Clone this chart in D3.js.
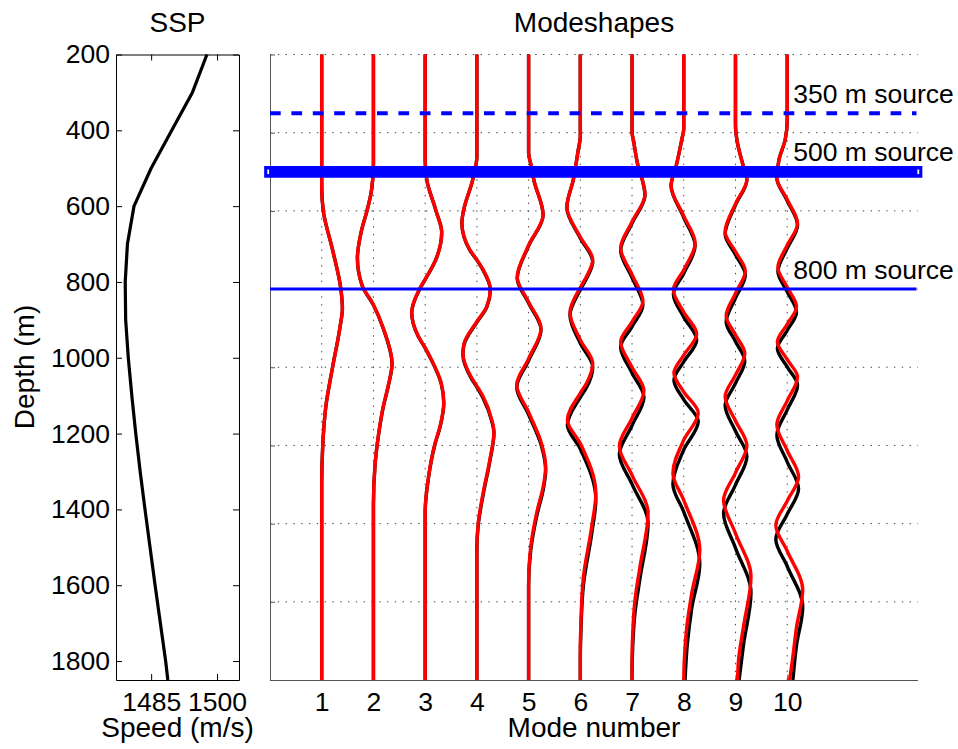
<!DOCTYPE html>
<html>
<head>
<meta charset="utf-8">
<script src="https://cdn.jsdelivr.net/npm/d3@7"></script>
<style>
  body { margin: 0; background: #fff; }
  text { font-family: "Liberation Sans", Arial, Helvetica, sans-serif; }
</style>
</head>
<body>
<svg id="chart" width="958" height="749"></svg>
<script>
// Sound speed profile (depth m, speed m/s)
const sspDepth = [200, 300, 400, 500, 600, 700, 800, 900, 1000, 1100, 1200, 1300, 1400, 1600, 1800, 1850];
const sspSpeed = [1497.7, 1494.4, 1489.7, 1485.0, 1481.1, 1479.6, 1479.1, 1479.2, 1479.8, 1480.6, 1481.5, 1482.5, 1483.6, 1485.9, 1488.3, 1488.8];

const depthTicks = [200, 400, 600, 800, 1000, 1200, 1400, 1600, 1800];
const speedTicks = [1485, 1500];
const modeNumbers = [1, 2, 3, 4, 5, 6, 7, 8, 9, 10];

const sourceDepths = [350, 500, 800];
const sourceLabels = ["350 m source", "500 m source", "800 m source"];

// Mode shapes as [depth, offset from mode number], red = one model, black = the other
const redShapes = [
    [[200,0],[540,0],[600,0.03],[700,0.21],[800,0.37],[850,0.40],[900,0.35],[1000,0.21],[1100,0.08],[1200,0.02],[1300,0],[1800,0]],
    [[200,0],[480,0],[550,-0.04],[600,-0.125],[650,-0.23],[720,-0.31],[790,-0.22],[840,0],[900,0.19],[990,0.36],[1050,0.28],[1100,0.19],[1170,0.1],[1250,0.03],[1350,0],[1800,0]],
    [[200,0],[470,0],[520,0.03],[600,0.21],[655,0.32],[720,0.22],[775,0],[800,-0.11],[860,-0.26],[920,-0.135],[950,0],[975,0.1],[1040,0.31],[1090,0.36],[1150,0.29],[1195,0.19],[1280,0.065],[1370,0],[1800,0]],
    [[200,0],[460,0],[520,-0.08],[600,-0.26],[630,-0.29],[700,-0.135],[725,0],[750,0.12],[800,0.26],[845,0.19],[883,0],[940,-0.25],[965,-0.27],[1025,-0.11],[1048,0],[1075,0.12],[1135,0.29],[1165,0.33],[1237,0.25],[1322,0.12],[1400,0.025],[1460,0],[1800,0]],
    [[200,0],[450,0],[490,0.06],[520,0.1],[610,0.28],[688,0],[770,-0.22],[833,0],[900,0.24],[978,0],[1045,-0.23],[1115,0],[1195,0.25],[1255,0.33],[1300,0.29],[1370,0.16],[1460,0.04],[1550,0],[1800,0]],
    [[200,0],[410,0],[444,-0.04],[520,-0.135],[590,-0.26],[667,0],[725,0.24],[768,0.12],[796,0],[860,-0.2],[930,0],[990,0.24],[1041,0.12],[1066,0],[1135,-0.25],[1195,0],[1322,0.3],[1408,0.22],[1536,0.06],[1660,0.01],[1720,0],[1800,0]],
    [[200,0],[400,0],[418,0.025],[487,0.12],[521,0.2],[558,0.25],[628,0],[695,-0.22],[763,0],[831,0.21],[884,0],[935,-0.22],[1000,0],[1060,0.23],[1130,0],[1202,-0.245],[1276,0],[1373,0.31],[1510,0.154],[1594,0.058],[1680,0.013],[1750,0],[1800,0]],
    [[200,0],[390,0],[418,-0.039],[487,-0.15],[535,-0.245],[613,0],[682,0.22],[751,0],[802,-0.2],[859,0],[915,0.25],[969,0],[1015,-0.19],[1063,0],[1117,0.28],[1186,0],[1271,-0.21],[1340,0],[1468,0.31],[1578,0.154],[1665,0.058],[1750,0.01],[1800,0]],
    [[200,0],[380,0],[418,0.027],[487,0.154],[520,0.22],[582,0],[654,-0.2],[704,0],[754,0.19],[811,0],[869,-0.18],[917,0],[965,0.18],[1020,0],[1075,-0.2],[1137,0],[1200,0.22],[1270,0],[1340,-0.23],[1425,0],[1535,0.3],[1664,0.154],[1750,0.058],[1800,0.04]],
    [[200,0],[370,0],[418,-0.039],[470,-0.16],[515,-0.2],[571,0],[632,0.2],[688,0],[745,-0.18],[795,0],[845,0.18],[890,0],[935,-0.19],[980,0],[1025,0.2],[1086,0],[1147,-0.2],[1213,0],[1280,0.22],[1342,0],[1404,-0.22],[1470,0],[1570,0.3],[1665,0.18],[1750,0.1],[1800,0.045]]
];

const blackShapes = [
    [[200,0],[540,0],[600,0.03],[700,0.21],[800,0.37],[850,0.40],[900,0.35],[1000,0.21],[1100,0.08],[1200,0.02],[1300,0],[1800,0]],
    [[200,0],[480,0],[550,-0.04],[600,-0.125],[650,-0.23],[721,-0.31],[791,-0.22],[841,0],[901,0.19],[992,0.36],[1052,0.28],[1102,0.19],[1172,0.1],[1252,0.03],[1352,0],[1800,0]],
    [[200,0],[470,0],[520,0.03],[600,0.21],[655,0.32],[720,0.22],[776,0],[801,-0.11],[861,-0.26],[921,-0.135],[951,0],[976,0.1],[1042,0.31],[1092,0.36],[1152,0.29],[1197,0.19],[1282,0.065],[1372,0],[1800,0]],
    [[200,0],[460,0],[520,-0.08],[601,-0.26],[631,-0.29],[701,-0.135],[726,0],[752,0.12],[802,0.26],[847,0.19],[885,0],[943,-0.25],[968,-0.27],[1028,-0.11],[1051,0],[1079,0.12],[1139,0.29],[1169,0.33],[1241,0.25],[1327,0.12],[1405,0.025],[1466,0],[1800,0]],
    [[200,0],[450,0],[490,0.06],[520,0.1],[611,0.28],[690,0],[773,-0.22],[836,0],[904,0.24],[983,0],[1051,-0.23],[1121,0],[1202,0.25],[1263,0.33],[1308,0.29],[1379,0.16],[1470,0.04],[1561,0],[1800,0]],
    [[200,0],[410,0],[444,-0.04],[520,-0.135],[592,-0.26],[670,0],[730,0.24],[773,0.12],[802,0],[867,-0.2],[939,0],[1000,0.24],[1052,0.12],[1077,0],[1148,-0.25],[1209,0],[1338,0.3],[1426,0.22],[1557,0.06],[1683,0.01],[1744,0],[1800,0]],
    [[200,0],[400,0],[418,0.025],[487,0.12],[522,0.2],[560,0.25],[632,0],[701,-0.22],[771,0],[841,0.21],[896,0],[948,-0.22],[1015,0],[1077,0.23],[1149,0],[1223,-0.245],[1299,0],[1399,0.31],[1540,0.154],[1627,0.058],[1715,0.013],[1788,0],[1800,0]],
    [[200,0],[390,0],[418,-0.039],[487,-0.15],[536,-0.245],[617,0],[689,0.22],[760,0],[813,-0.2],[872,0],[930,0.25],[986,0],[1033,-0.19],[1083,0],[1139,0.28],[1211,0],[1299,-0.21],[1370,0],[1503,0.31],[1617,0.154],[1707,0.07],[1800,0.025]],
    [[200,0],[380,0],[418,0.027],[487,0.154],[521,0.22],[585,0],[660,-0.2],[712,0],[764,0.19],[823,0],[884,-0.18],[934,0],[984,0.18],[1041,0],[1098,-0.2],[1163,0],[1228,0.22],[1301,0],[1374,-0.23],[1462,0],[1576,0.3],[1711,0.154],[1800,0.07]],
    [[200,0],[370,0],[418,-0.039],[470,-0.16],[516,-0.2],[574,0],[637,0.2],[696,0],[755,-0.18],[807,0],[859,0.18],[906,0],[952,-0.19],[999,0],[1046,0.2],[1109,0],[1173,-0.2],[1242,0],[1311,0.22],[1376,0],[1440,-0.22],[1509,0],[1613,0.3],[1712,0.18],[1800,0.11]]
];

const svg = d3.select("#chart");
const FONT = "'Liberation Sans', Arial, Helvetica, sans-serif";
const fmt = d3.format("d");

// ---------- SSP panel ----------
const sspX = d3.scaleLinear().domain([1477, 1505]).range([116, 239]);
const sspY = d3.scaleLinear().domain([200, 1850]).range([54.5, 680]);

function styleAxis(g, color, size) {
    g.attr("font-family", FONT).attr("font-size", size);
    g.selectAll("path.domain").attr("stroke", color).attr("stroke-width", 1);
    g.selectAll(".tick line").attr("stroke", color);
    g.selectAll(".tick text").attr("fill", "#000");
}

svg.append("g")
    .attr("transform", "translate(116,0)")
    .call(d3.axisLeft(sspY).tickValues(depthTicks).tickFormat(fmt).tickSize(-6).tickSizeOuter(0).tickPadding(6))
    .call(g => styleAxis(g, "#000", 26.5));
svg.append("g")
    .attr("transform", "translate(239,0)")
    .call(d3.axisRight(sspY).tickValues(depthTicks).tickSize(-6).tickSizeOuter(0).tickFormat(""))
    .call(g => styleAxis(g, "#000", 26));
svg.append("g")
    .attr("transform", "translate(0,680)")
    .call(d3.axisBottom(sspX).tickValues(speedTicks).tickFormat(fmt).tickSize(-6).tickSizeOuter(0).tickPadding(12))
    .call(g => styleAxis(g, "#000", 26.5));
svg.append("g")
    .attr("transform", "translate(0,54.5)")
    .call(d3.axisTop(sspX).tickValues(speedTicks).tickSize(-6).tickSizeOuter(0).tickFormat(""))
    .call(g => styleAxis(g, "#000", 26));

svg.append("path")
    .datum(sspDepth.map((d, i) => [sspSpeed[i], d]))
    .attr("fill", "none")
    .attr("stroke", "#000")
    .attr("stroke-width", 3.2)
    .attr("stroke-linejoin", "round")
    .attr("d", d3.line().x(d => sspX(d[0])).y(d => sspY(d[1])));

svg.append("text").attr("x", 177.5).attr("y", 32).attr("text-anchor", "middle")
    .attr("font-size", 28).text("SSP");
svg.append("text").attr("x", 177.5).attr("y", 737).attr("text-anchor", "middle")
    .attr("font-size", 28).text("Speed (m/s)");
svg.append("text").attr("transform", "translate(34,367) rotate(-90)").attr("text-anchor", "middle")
    .attr("font-size", 28).text("Depth (m)");

// ---------- Modeshape panel ----------
const modeX = d3.scaleLinear().domain([0, 12.5]).range([270, 916.5]);
const modeY = d3.scaleLinear().domain([200, 1800]).range([54.5, 680]);
const gridEnd = 918;

// dotted grid
const grid = svg.append("g").attr("stroke", "#444").attr("stroke-width", 1)
    .attr("stroke-dasharray", "1.4,6.4");
grid.selectAll("line.h")
    .data(depthTicks.filter(d => d < 1800))
    .join("line")
    .attr("x1", modeX(0)).attr("x2", gridEnd)
    .attr("y1", d => modeY(d)).attr("y2", d => modeY(d));
grid.selectAll("line.v")
    .data(modeNumbers)
    .join("line")
    .attr("x1", d => modeX(d)).attr("x2", d => modeX(d))
    .attr("y1", modeY(200)).attr("y2", modeY(1800));

svg.append("g")
    .attr("transform", "translate(270,0)")
    .call(d3.axisLeft(modeY).tickValues(depthTicks).tickSize(-5).tickSizeOuter(0).tickFormat(""))
    .call(g => styleAxis(g, "#555", 26));
svg.append("g")
    .attr("transform", "translate(0,680)")
    .call(d3.axisBottom(modeX).tickValues(modeNumbers).tickFormat(fmt).tickSize(-5).tickSizeOuter(0).tickPadding(12))
    .call(g => styleAxis(g, "#555", 26.5))
    .call(g => g.select("path.domain").attr("d", `M270,0.5H${gridEnd}`));

const modeLine = d3.line()
    .x(d => modeX(d.mode + d.off))
    .y(d => modeY(d.depth))
    .curve(d3.curveMonotoneY);

function shapePoints(shape, i) {
    return shape.map(p => ({ mode: modeNumbers[i], depth: p[0], off: p[1] }));
}

svg.append("g")
    .selectAll("path")
    .data(blackShapes.map(shapePoints))
    .join("path")
    .attr("fill", "none")
    .attr("stroke", "#000")
    .attr("stroke-width", 3.4)
    .attr("d", modeLine);

svg.append("g")
    .selectAll("path")
    .data(redShapes.map(shapePoints))
    .join("path")
    .attr("fill", "none")
    .attr("stroke", "#ff0000")
    .attr("stroke-width", 3.4)
    .attr("d", modeLine);

// source depths
const srcWidths = [4, 11.7, 3];
const srcDash = ["10.7,10.7", null, null];
const srcCap = ["butt", "square", "butt"];
const srcG = svg.append("g");
srcG.selectAll("line")
    .data(sourceDepths)
    .join("line")
    .attr("x1", modeX(0))
    .attr("x2", modeX(12.5))
    .attr("y1", d => modeY(d))
    .attr("y2", d => modeY(d))
    .attr("stroke", "#0000ff")
    .attr("stroke-width", (d, i) => srcWidths[i])
    .attr("stroke-linecap", (d, i) => srcCap[i])
    .attr("stroke-dasharray", (d, i) => srcDash[i]);

// open marker centres showing at the ends of the thick 500 m line
srcG.selectAll("line.end")
    .data([0, 12.5])
    .join("line")
    .attr("x1", (d, i) => modeX(d) + (i ? 1.8 : -1.8))
    .attr("x2", (d, i) => modeX(d) + (i ? 1.8 : -1.8))
    .attr("y1", modeY(sourceDepths[1]) - 2.3)
    .attr("y2", modeY(sourceDepths[1]) + 2.3)
    .attr("stroke", "#fff")
    .attr("stroke-width", 1.8);

svg.append("g")
    .selectAll("text")
    .data(sourceDepths)
    .join("text")
    .attr("x", modeX(10) + 6)
    .attr("y", d => modeY(d) - 10.5)
    .attr("font-size", 26.5)
    .text((d, i) => sourceLabels[i]);

svg.append("text").attr("x", 594).attr("y", 32).attr("text-anchor", "middle")
    .attr("font-size", 28).text("Modeshapes");
svg.append("text").attr("x", 594).attr("y", 737).attr("text-anchor", "middle")
    .attr("font-size", 28).text("Mode number");
</script>
</body>
</html>
